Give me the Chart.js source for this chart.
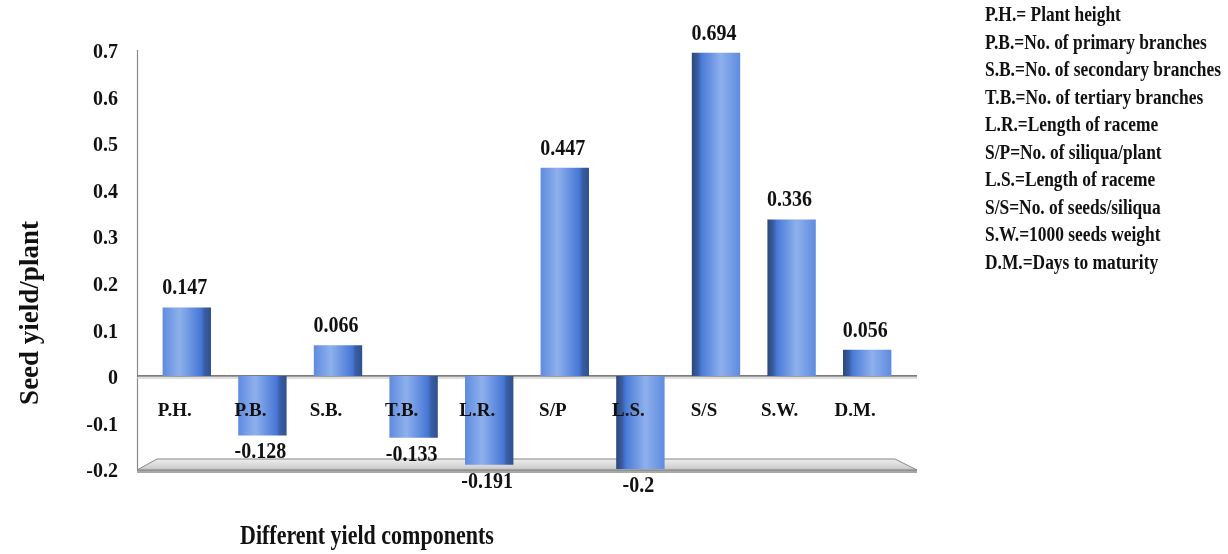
<!DOCTYPE html>
<html>
<head>
<meta charset="utf-8">
<title>Seed yield/plant – yield components</title>
<script src="https://cdn.jsdelivr.net/npm/chart.js@4/dist/chart.umd.min.js"></script>
<style>
  html, body { margin: 0; padding: 0; background: #ffffff; }
  #wrap { width: 1228px; height: 554px; }
</style>
</head>
<body>
<div id="wrap"><canvas id="chart" width="1228" height="554"></canvas></div>
<script>
// Yield components (abbreviations shown on the category axis)
const categories = ['P.H.', 'P.B.', 'S.B.', 'T.B.', 'L.R.', 'S/P', 'L.S.', 'S/S', 'S.W.', 'D.M.'];

// Direct effect on seed yield/plant for each component
const seedYieldValues = [0.147, -0.128, 0.066, -0.133, -0.191, 0.447, -0.2, 0.694, 0.336, 0.056];

// Value axis range and step
const yRange = [-0.2, 0.7];
const yStep = 0.1;

// Key of abbreviations printed at the right
const keyLines = [
  'P.H.= Plant height',
  'P.B.=No. of primary branches',
  'S.B.=No. of secondary branches',
  'T.B.=No. of tertiary branches',
  'L.R.=Length of raceme',
  'S/P=No. of siliqua/plant',
  'L.S.=Length of raceme',
  'S/S=No. of seeds/siliqua',
  'S.W.=1000 seeds weight',
  'D.M.=Days to maturity'
];

const yTitle = 'Seed yield/plant';
const xTitle = 'Different yield components';

const SERIF = '"Liberation Serif", "Times New Roman", "DejaVu Serif", serif';
const CAT_PCT = 0.64;

// Shaded bar face with a darker side edge facing away from the centre
function barFill(ctx) {
  const chart = ctx.chart;
  const xs = chart.scales && chart.scales.x;
  if (!xs || ctx.type !== 'data' || !chart.chartArea) return '#5a88de';
  const cx = xs.getPixelForValue(ctx.dataIndex);
  const w = xs.width / categories.length * CAT_PCT;
  const g = chart.ctx.createLinearGradient(cx - w / 2, 0, cx + w / 2, 0);
  const centre = (chart.chartArea.left + chart.chartArea.right) / 2 + 60;
  if (cx < centre) {
    g.addColorStop(0, '#5f8bdf');
    g.addColorStop(0.35, '#8eb0ec');
    g.addColorStop(0.8, '#4677d6');
    g.addColorStop(0.86, '#3a5ea5');
    g.addColorStop(1, '#30508c');
  } else {
    g.addColorStop(0, '#2c4679');
    g.addColorStop(0.12, '#395ca0');
    g.addColorStop(0.2, '#4a7bd8');
    g.addColorStop(0.6, '#8eb0ec');
    g.addColorStop(1, '#5f8bdf');
  }
  return g;
}

// Draws a line of text stretched vertically around its centre line
function tallText(ctx, text, x, y, stretch) {
  ctx.save();
  ctx.translate(x, y);
  ctx.scale(1, stretch);
  ctx.fillText(text, 0, 0);
  ctx.restore();
}

// Floor, value axis line and zero line drawn behind the bars
const frame3d = {
  id: 'frame3d',
  beforeDatasetsDraw(chart) {
    const { ctx, chartArea, scales } = chart;
    const yZero = scales.y.getPixelForValue(0);
    const yFloor = scales.y.getPixelForValue(yRange[0]);
    const left = chartArea.left - 12;
    const right = chartArea.right + 12;
    ctx.save();
    // floor slab
    const top = yFloor - 10;
    const bot = yFloor + 1;
    const g = ctx.createLinearGradient(0, top, 0, bot + 4);
    g.addColorStop(0, '#eeeeee');
    g.addColorStop(0.6, '#cfcfcf');
    g.addColorStop(1, '#858585');
    ctx.beginPath();
    ctx.moveTo(left, bot);
    ctx.lineTo(left + 20, top);
    ctx.lineTo(right - 22, top);
    ctx.lineTo(right, bot);
    ctx.closePath();
    ctx.fillStyle = g;
    ctx.fill();
    ctx.strokeStyle = '#888888';
    ctx.lineWidth = 1;
    ctx.stroke();
    ctx.fillStyle = 'rgba(110,110,110,0.6)';
    ctx.fillRect(left, bot, right - left, 3);
    // value axis line
    ctx.beginPath();
    ctx.moveTo(left + 0.5, chartArea.top);
    ctx.lineTo(left + 0.5, bot);
    ctx.strokeStyle = '#8a8a8a';
    ctx.lineWidth = 1.2;
    ctx.stroke();
    // zero line
    ctx.beginPath();
    ctx.moveTo(left, yZero);
    ctx.lineTo(right, yZero);
    ctx.strokeStyle = '#7c7c7c';
    ctx.lineWidth = 1.6;
    ctx.stroke();
    ctx.beginPath();
    ctx.moveTo(left, yZero + 2);
    ctx.lineTo(right, yZero + 2);
    ctx.strokeStyle = '#d4d4d4';
    ctx.lineWidth = 1.5;
    ctx.stroke();
    ctx.restore();
  }
};

// Value labels above positive bars and below negative ones
const valueLabels = {
  id: 'valueLabels',
  afterDatasetsDraw(chart) {
    const { ctx } = chart;
    const meta = chart.getDatasetMeta(0);
    ctx.save();
    ctx.font = 'bold 20px ' + SERIF;
    ctx.fillStyle = '#111111';
    ctx.textAlign = 'center';
    ctx.textBaseline = 'middle';
    meta.data.forEach((bar, i) => {
      const v = seedYieldValues[i];
      const y = v >= 0 ? bar.y - 19 : bar.y + 17;
      tallText(ctx, String(v), bar.x - 2, y, 1.12);
    });
    ctx.restore();
  }
};

// Axis titles and abbreviation key
const textLayer = {
  id: 'textLayer',
  afterDraw(chart) {
    const { ctx, chartArea } = chart;
    ctx.save();
    ctx.fillStyle = '#111111';
    // value axis title
    ctx.font = 'bold 27px ' + SERIF;
    ctx.textAlign = 'center';
    ctx.textBaseline = 'middle';
    ctx.translate(31, 313);
    ctx.rotate(-Math.PI / 2);
    ctx.fillText(yTitle, 0, 0);
    ctx.setTransform(1, 0, 0, 1, 0, 0);
    // category axis title
    ctx.font = 'bold 22px ' + SERIF;
    ctx.textAlign = 'left';
    tallText(ctx, xTitle, 240, 537, 1.22);
    // key
    ctx.font = 'bold 17.4px ' + SERIF;
    ctx.textAlign = 'left';
    keyLines.forEach((line, i) => {
      tallText(ctx, line, chartArea.right + 80, 16 + i * 27.5, 1.22);
    });
    ctx.restore();
  }
};

new Chart(document.getElementById('chart'), {
  type: 'bar',
  data: {
    labels: categories,
    datasets: [{
      data: seedYieldValues,
      backgroundColor: barFill,
      borderWidth: 0,
      barPercentage: 1,
      categoryPercentage: CAT_PCT
    }]
  },
  options: {
    responsive: false,
    animation: false,
    devicePixelRatio: 1,
    layout: { padding: { top: 50, right: 323, bottom: 85, left: 0 } },
    plugins: {
      legend: { display: false },
      tooltip: { enabled: false },
      title: { display: false }
    },
    scales: {
      x: {
        position: { y: 0 },
        offset: true,
        grid: { display: false, drawTicks: false },
        border: { display: false },
        ticks: {
          z: 1,
          color: '#111111',
          font: { family: SERIF, size: 19, weight: 'bold' },
          padding: 24,
          labelOffset: -12,
          maxRotation: 0,
          autoSkip: false
        }
      },
      y: {
        min: yRange[0],
        max: yRange[1],
        afterFit(scale) { scale.width = 149; },
        grid: { display: false, drawTicks: false },
        border: { display: false },
        ticks: {
          stepSize: yStep,
          padding: 31,
          labelOffset: 3,
          color: '#111111',
          font: { family: SERIF, size: 20, weight: 'bold' },
          callback: (value) => String(Number(value.toFixed(1)))
        }
      }
    }
  },
  plugins: [frame3d, valueLabels, textLayer]
});
</script>
</body>
</html>
